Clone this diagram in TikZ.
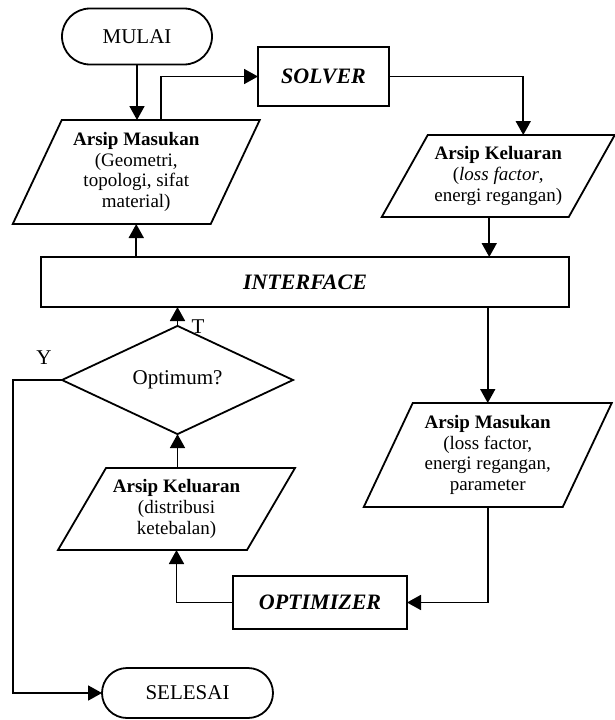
\documentclass[tikz,border=0pt]{standalone}
\usepackage{fontspec}
\setmainfont{Liberation Serif}
\usetikzlibrary{arrows.meta,shapes.geometric,calc}
\newcommand{\drawpara}[2]{\draw ([xshift=#2]#1.north west) -- ([xshift=#2]#1.north east) -- ([xshift=-#2]#1.south east) -- ([xshift=-#2]#1.south west) -- cycle;}
\begin{document}
\begin{tikzpicture}[x=1pt,y=-1pt,line width=1.8pt,
  every node/.style={inner sep=0pt,outer sep=0pt},
  bigtext/.style={font=\fontsize{21}{24}\selectfont},
  bitext/.style={font=\fontsize{22}{24}\selectfont\bfseries\itshape},
  term/.style={draw,bigtext,rectangle},
  boxnode/.style={draw,bitext,rectangle},
  dia/.style={draw,bigtext,diamond},
  ptext/.style={rectangle,align=center,font=\fontsize{19}{20.8}\selectfont},
  lbl/.style={bigtext},
  arr/.style={-{Triangle[length=14pt,width=15pt]}}]
\useasboundingbox (0,0) rectangle (615,720);
% nodes
\node[term,rounded corners=28pt,minimum width=150pt,minimum height=56pt] (mulai) at (137,36.5) {MULAI};
\node[boxnode,minimum width=131pt,minimum height=59pt] (solver) at (323.5,76.5) {SOLVER};
\node[ptext,minimum width=198pt,minimum height=104pt] (am) at (136.25,172) {\textbf{Arsip Masukan}\\(Geometri,\\topologi, sifat\\material)};
\drawpara{am}{24.5pt}
\node[ptext,minimum width=187pt,minimum height=82pt] (ak1) at (498.25,176) {\textbf{Arsip Keluaran}\\(\textit{loss factor},\\energi regangan)};
\drawpara{ak1}{23pt}
\node[boxnode,minimum width=528pt,minimum height=50pt] (iface) at (305,282) {INTERFACE};
\node[dia,minimum width=231pt,minimum height=66pt] (dec) at (177.5,380) {Optimum?};
\node[ptext,minimum width=199pt,minimum height=104pt] (am2) at (487.75,455) {\textbf{Arsip Masukan}\\(loss factor,\\energi regangan,\\parameter};
\drawpara{am2}{24.5pt}
\node[ptext,minimum width=189pt,minimum height=82pt] (ak2) at (176.5,509) {\textbf{Arsip Keluaran}\\(distribusi\\ketebalan)};
\drawpara{ak2}{24pt}
\node[boxnode,minimum width=174pt,minimum height=53pt] (opt) at (320,602.5) {OPTIMIZER};
\node[term,rounded corners=25pt,minimum width=171pt,minimum height=50pt] (sel) at (187.5,693) {SELESAI};
\node[lbl] (tlab) at (198,327) {T};
\node[lbl] (ylab) at (44,358) {Y};
% connectors
\coordinate (amout) at ([xshift=25pt]am.north);
\coordinate (k1in) at ([xshift=25pt]ak1.north);
\coordinate (k1out) at ([xshift=-9pt]ak1.south);
\coordinate (ybend) at (13,380);
\draw[arr] (mulai.south) -- (mulai.south |- am.north);
\draw[arr] (amout) |- (solver.west);
\draw[arr] (solver.east) -| (k1in);
\draw[arr] (k1out) -- (k1out |- iface.north);
\draw[arr] (iface.north -| am.south) -- (am.south);
\draw[arr] (iface.south -| am2.north) -- (am2.north);
\draw[arr] (am2.south) |- (opt.east);
\draw[arr] (opt.west) -| (ak2.south);
\draw[arr] (dec.south |- ak2.north) -- (dec.south);
\draw[arr] (dec.north) -- (dec.north |- iface.south);
\draw[arr] (dec.west) -- (ybend) |- (sel.west);
\end{tikzpicture}
\end{document}
